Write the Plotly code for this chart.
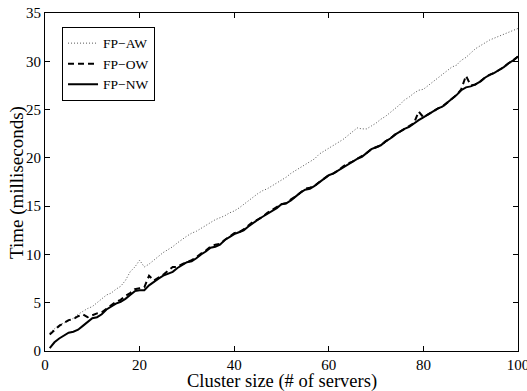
import plotly.graph_objects as go

cluster_size = list(range(1, 101))

fp_nw = [0.3, 0.9, 1.3, 1.6, 1.9, 2.0, 2.2, 2.6, 3.0, 3.4,
         3.5, 3.8, 4.3, 4.6, 4.9, 5.1, 5.4, 5.8, 6.2, 6.3,
         6.3, 6.8, 7.2, 7.5, 7.8, 8.0, 8.2, 8.6, 8.9, 9.2,
         9.3, 9.6, 10.0, 10.3, 10.7, 10.8, 11.0, 11.5, 11.8, 12.1,
         12.3, 12.5, 12.9, 13.3, 13.6, 13.9, 14.2, 14.5, 14.8, 15.2,
         15.3, 15.6, 16.0, 16.4, 16.7, 16.8, 17.1, 17.5, 17.9, 18.2,
         18.4, 18.7, 19.0, 19.3, 19.6, 19.9, 20.1, 20.5, 20.9, 21.1,
         21.3, 21.7, 22.0, 22.4, 22.7, 23.0, 23.2, 23.6, 23.9, 24.2,
         24.5, 24.8, 25.1, 25.3, 25.7, 26.1, 26.5, 27.0, 27.3, 27.4,
         27.6, 27.9, 28.3, 28.6, 28.8, 29.1, 29.4, 29.8, 30.1, 30.5]

fp_ow = [1.7, 2.2, 2.6, 2.9, 3.2, 3.3, 3.6, 3.8, 3.5, 3.7,
         3.9, 4.0, 4.4, 4.8, 5.1, 5.3, 5.7, 6.0, 6.4, 6.5,
         6.6, 7.8, 7.3, 7.6, 7.9, 8.3, 8.7, 8.7, 9.0, 9.2,
         9.4, 9.7, 10.1, 10.4, 10.8, 11.0, 11.1, 11.5, 11.9, 12.2,
         12.3, 12.6, 13.0, 13.4, 13.6, 13.9, 14.3, 14.6, 14.9, 15.2,
         15.3, 15.7, 16.0, 16.4, 16.8, 16.9, 17.1, 17.5, 17.9, 18.2,
         18.4, 18.7, 19.1, 19.4, 19.6, 19.9, 20.2, 20.5, 20.9, 21.1,
         21.3, 21.7, 22.0, 22.4, 22.7, 23.0, 23.3, 23.6, 24.8, 24.2,
         24.5, 24.8, 25.1, 25.3, 25.7, 26.1, 26.5, 27.1, 28.5, 27.5,
         27.6, 27.9, 28.3, 28.6, 28.8, 29.1, 29.4, 29.8, 30.1, 30.5]

fp_aw = [1.9, 2.3, 2.7, 2.9, 3.1, 3.4, 3.8, 4.1, 4.4, 4.6,
         5.0, 5.4, 5.8, 6.0, 6.4, 6.7, 7.3, 8.2, 8.7, 9.4,
         8.7, 9.0, 9.4, 9.8, 10.2, 10.5, 10.8, 11.2, 11.6, 11.9,
         12.2, 12.4, 12.7, 13.0, 13.3, 13.6, 13.8, 14.0, 14.3, 14.5,
         14.8, 15.2, 15.6, 16.0, 16.3, 16.6, 16.8, 17.1, 17.4, 17.7,
         18.0, 18.4, 18.7, 19.0, 19.3, 19.6, 19.9, 20.4, 20.7, 21.0,
         21.3, 21.6, 21.9, 22.3, 22.7, 23.1, 23.0, 23.0, 23.3, 23.6,
         24.0, 24.3, 24.7, 25.1, 25.5, 26.0, 26.3, 26.7, 27.0, 27.1,
         27.5, 27.9, 28.2, 28.6, 29.0, 29.4, 29.6, 30.1, 30.4, 30.9,
         31.3, 31.6, 31.9, 32.2, 32.4, 32.6, 32.8, 33.0, 33.2, 33.4]

x_ticks = [0, 20, 40, 60, 80, 100]
y_ticks = [0, 5, 10, 15, 20, 25, 30, 35]

FONT = "Liberation Serif"

fig = go.Figure()
fig.add_trace(go.Scatter(x=cluster_size, y=fp_aw, mode="lines", name="FP\u2212AW",
                         line=dict(color="#555555", width=1, dash="1px,2px")))
fig.add_trace(go.Scatter(x=cluster_size, y=fp_ow, mode="lines", name="FP\u2212OW",
                         line=dict(color="black", width=2, dash="6px,4px")))
fig.add_trace(go.Scatter(x=cluster_size, y=fp_nw, mode="lines", name="FP\u2212NW",
                         line=dict(color="black", width=2)))

axis_common = dict(
    showgrid=False, zeroline=False, showline=True, linecolor="black", linewidth=1,
    mirror="ticks", ticks="inside", ticklen=5, tickcolor="black", tickwidth=1,
    tickfont=dict(family=FONT, size=15, color="black"), automargin=False,
    ticklabeloverflow="allow",
)

fig.update_xaxes(range=[0, 100], tickvals=x_ticks, ticktext=[str(v) for v in x_ticks],
                 **axis_common)
fig.update_yaxes(range=[0, 35], tickvals=y_ticks, ticktext=[str(v) for v in y_ticks],
                 **axis_common)

fig.update_layout(
    width=527, height=391,
    margin=dict(l=45, r=9, t=13, b=40),
    paper_bgcolor="white", plot_bgcolor="white",
    font=dict(family=FONT, color="black"),
    showlegend=True,
    legend=dict(x=0.036, y=0.959, xanchor="left", yanchor="top",
                bgcolor="white", bordercolor="black", borderwidth=1,
                font=dict(family=FONT, size=13.5, color="black"),
                itemwidth=30, tracegroupgap=0),
    annotations=[
        dict(text="Cluster size (# of servers)", xref="paper", yref="paper",
             x=0.5, y=-0.0905, xanchor="center", yanchor="middle", showarrow=False,
             borderpad=0, font=dict(family=FONT, size=18.5, color="black")),
        dict(text="Time (milliseconds)", xref="paper", yref="paper",
             x=-0.0592, y=0.5, xanchor="center", yanchor="middle", showarrow=False,
             textangle=-90, font=dict(family=FONT, size=19, color="black")),
    ],
)

fig.write_html("out.html", config={"displayModeBar": False},
               post_script="document.body.style.margin='0';document.body.style.padding='0';")
